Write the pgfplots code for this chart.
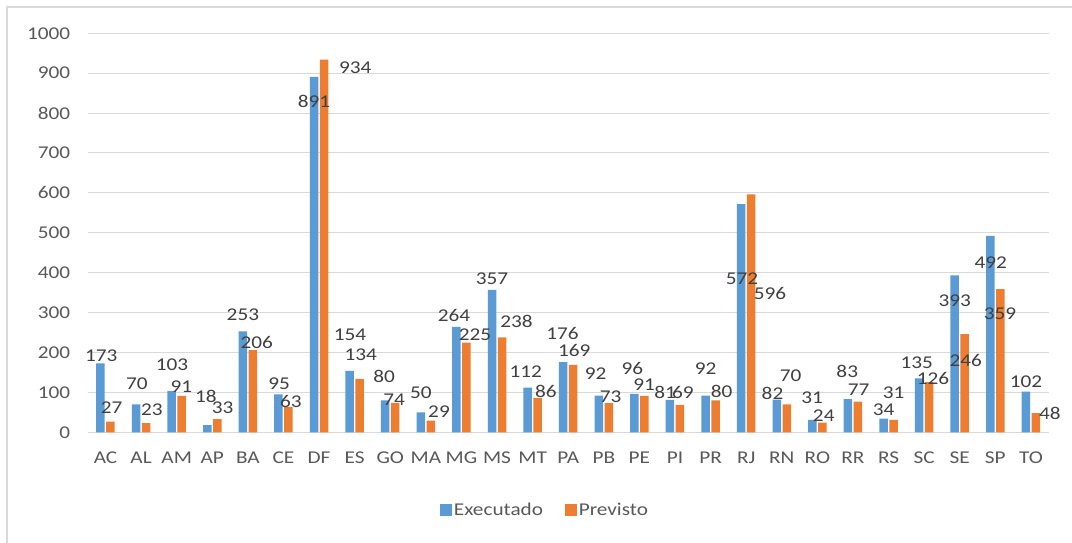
\documentclass[border=0pt]{standalone}
\usepackage{fontspec}
\setmainfont{Carlito}[FakeStretch=1.18]
\usepackage{pgfplots}
\usepackage{pgfplotstable}
\pgfplotsset{compat=1.18}
\definecolor{cexe}{HTML}{5B9BD5}
\definecolor{cprev}{HTML}{ED7D31}
\definecolor{cgrid}{HTML}{D9D9D9}
\definecolor{ctick}{HTML}{595959}
\definecolor{clab}{HTML}{404040}

\pgfplotstableread{
x cat exe prev
0 AC 173 27
1 AL 70 23
2 AM 103 91
3 AP 18 33
4 BA 253 206
5 CE 95 63
6 DF 891 934
7 ES 154 134
8 GO 80 74
9 MA 50 29
10 MG 264 225
11 MS 357 238
12 MT 112 86
13 PA 176 169
14 PB 92 73
15 PE 96 91
16 PI 81 69
17 PR 92 80
18 RJ 572 596
19 RN 82 70
20 RO 31 24
21 RR 83 77
22 RS 34 31
23 SC 135 126
24 SE 393 246
25 SP 492 359
26 TO 102 48
}\datatable

% data label positions (label centre, in axis units)
\pgfplotstableread{
lx ly lab
-0.12 192 173
0.17 62 27
0.88 123 70
1.30 56 23
1.87 170 103
2.13 115 91
2.82 91 18
3.29 61 33
3.86 294 253
4.25 225 206
4.88 123 95
5.21 76 63
5.86 829 891
7.02 913 934
6.87 244 154
7.17 194 134
7.83 139 80
8.11 82 74
8.86 99 50
9.37 52 29
9.79 294 264
10.38 244 225
10.86 386 357
11.55 277 238
11.81 152 112
12.37 102 86
12.84 248 176
13.17 206 169
13.77 148 92
14.19 89 73
14.80 160 96
15.13 119 91
15.72 99 81
16.22 100 69
16.86 160 92
17.31 102 80
17.88 384 572
18.67 349 596
18.74 98 82
19.25 141 70
19.85 86 31
20.18 41 24
20.84 152 83
21.16 106 77
21.86 57 34
22.14 98 31
22.79 174 135
23.25 136 126
23.86 331 393
24.17 181 246
24.87 425 492
25.13 297 359
25.86 127 102
26.53 47 48
}\labtable

\begin{document}
\begin{tikzpicture}
\useasboundingbox (0,0) rectangle (1072bp,543bp);
\fill[white] (0,0) rectangle (1072bp,543bp);
\draw[cgrid, line width=2bp] (7bp,0) -- (7bp,536bp) -- (1072bp,536bp);
\begin{axis}[
  at={(87.7bp,110.7bp)}, anchor=south west,
  scale only axis,
  width=961bp, height=399bp,
  xmin=-0.5, xmax=26.5,
  ymin=0, ymax=1000,
  clip=false,
  axis line style={draw=none},
  major tick length=0pt,
  ymajorgrids,
  grid style={cgrid, line width=1bp},
  ytick={0,100,...,1000},
  xtick={0,...,26},
  xticklabels={AC,AL,AM,AP,BA,CE,DF,ES,GO,MA,MG,MS,MT,PA,PB,PE,PI,PR,RJ,RN,RO,RR,RS,SC,SE,SP,TO},
  /pgf/number format/assume math mode=true,
  /pgf/number format/1000 sep={},
  tick label style={font=\fontsize{18bp}{21bp}\selectfont, text=ctick},
  yticklabel style={xshift=-14bp},
  xticklabel style={yshift=-16bp},
  legend columns=2,
  legend style={draw=none, fill=none, at={(0.476,-0.195)}, anchor=center,
    font=\fontsize{18bp}{21bp}\selectfont, text=ctick,
    /tikz/every even column/.append style={column sep=20bp}},
  legend image code/.code={\fill[#1] (0bp,-5.85bp) rectangle (11.7bp,5.85bp);},
]
\addplot[ybar, bar width=8.5bp, bar shift=-5bp, fill=cexe, draw=none] table[x=x, y=exe] {\datatable};
\addlegendentry{Executado}
\addplot[ybar, bar width=8.5bp, bar shift=5bp, fill=cprev, draw=none] table[x=x, y=prev] {\datatable};
\addlegendentry{Previsto}
\addplot[draw=none, mark=none, forget plot,
  nodes near coords, point meta=explicit symbolic,
  nodes near coords align={center},
  every node near coord/.style={anchor=center, inner sep=0pt, text=clab,
    font=\fontsize{18bp}{21bp}\selectfont}]
  table[x=lx, y=ly, meta=lab] {\labtable};
\end{axis}
\end{tikzpicture}
\end{document}
